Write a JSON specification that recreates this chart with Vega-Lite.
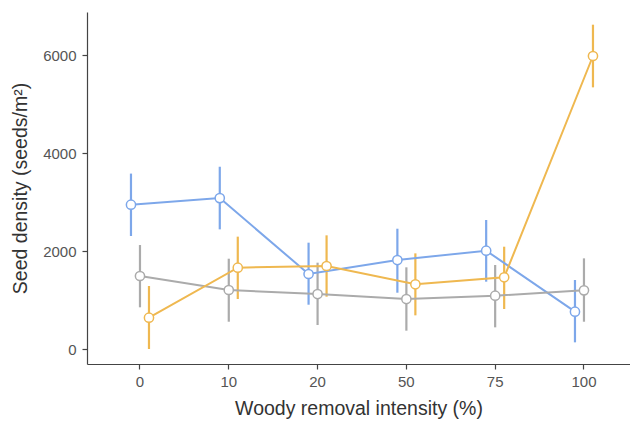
{
  "$schema": "https://vega.github.io/schema/vega-lite/v6.json",
  "width": 543,
  "height": 352,
  "autosize": {"type": "none"},
  "padding": {"left": 87, "top": 12, "right": 0, "bottom": 60},
  "background": "white",
  "config": {
    "view": {"stroke": null},
    "font": "Liberation Sans",
    "axis": {
      "grid": false,
      "domainColor": "#444444",
      "domainWidth": 1.2,
      "tickColor": "#444444",
      "tickWidth": 1.2,
      "tickSize": 5,
      "labelColor": "#555555",
      "labelFontSize": 15,
      "titleColor": "#333333",
      "titleFontSize": 19.5,
      "titleFontWeight": "normal"
    }
  },
  "data": {
    "values": [
      {"removal": "0", "group": "blue", "mean": 2945, "lo": 2306, "hi": 3580},
      {"removal": "10", "group": "blue", "mean": 3080, "lo": 2442, "hi": 3720},
      {"removal": "20", "group": "blue", "mean": 1531, "lo": 904, "hi": 2170},
      {"removal": "50", "group": "blue", "mean": 1816, "lo": 1149, "hi": 2455},
      {"removal": "75", "group": "blue", "mean": 2007, "lo": 1374, "hi": 2633},
      {"removal": "100", "group": "blue", "mean": 762, "lo": 136, "hi": 1408},
      {"removal": "0", "group": "gray", "mean": 1490, "lo": 851, "hi": 2122},
      {"removal": "10", "group": "gray", "mean": 1204, "lo": 557, "hi": 1843},
      {"removal": "20", "group": "gray", "mean": 1122, "lo": 490, "hi": 1762},
      {"removal": "50", "group": "gray", "mean": 1020, "lo": 374, "hi": 1667},
      {"removal": "75", "group": "gray", "mean": 1088, "lo": 442, "hi": 1714},
      {"removal": "100", "group": "gray", "mean": 1197, "lo": 557, "hi": 1850},
      {"removal": "0", "group": "orange", "mean": 639, "lo": 0, "hi": 1286},
      {"removal": "10", "group": "orange", "mean": 1660, "lo": 1020, "hi": 2293},
      {"removal": "20", "group": "orange", "mean": 1694, "lo": 1068, "hi": 2320},
      {"removal": "50", "group": "orange", "mean": 1320, "lo": 687, "hi": 1952},
      {"removal": "75", "group": "orange", "mean": 1463, "lo": 816, "hi": 2088},
      {"removal": "100", "group": "orange", "mean": 5980, "lo": 5340, "hi": 6619}
    ]
  },
  "encoding": {
    "x": {
      "field": "removal",
      "type": "ordinal",
      "sort": ["0", "10", "20", "50", "75", "100"],
      "scale": {"type": "band", "paddingInner": 0, "paddingOuter": 0.0575, "align": 0.84},
      "axis": {"title": "Woody removal intensity (%)", "labelAngle": 0, "labelPadding": 5, "titlePadding": 10}
    },
    "xOffset": {
      "field": "group",
      "type": "nominal",
      "scale": {"type": "point", "domain": ["blue", "gray", "orange"], "range": [35.4, 53.4], "padding": 0}
    },
    "color": {
      "field": "group",
      "type": "nominal",
      "scale": {"domain": ["blue", "gray", "orange"], "range": ["#7DA7EA", "#ABABAB", "#EFB850"]},
      "legend": null
    }
  },
  "layer": [
    {
      "mark": {"type": "rule", "strokeWidth": 2.2},
      "encoding": {
        "y": {
          "field": "lo",
          "type": "quantitative",
          "scale": {"domain": [-306, 6878], "nice": false, "zero": false},
          "axis": {"title": "Seed density (seeds/m²)", "values": [0, 2000, 4000, 6000], "format": "d", "labelPadding": 6, "titlePadding": 12}
        },
        "y2": {"field": "hi"}
      }
    },
    {
      "mark": {"type": "line", "strokeWidth": 2},
      "encoding": {"y": {"field": "mean", "type": "quantitative"}}
    },
    {
      "mark": {"type": "point", "filled": true, "fill": "white", "size": 85, "strokeWidth": 1.5, "opacity": 1},
      "encoding": {
        "y": {"field": "mean", "type": "quantitative"},
        "stroke": {"field": "group", "type": "nominal", "scale": {"domain": ["blue", "gray", "orange"], "range": ["#7DA7EA", "#ABABAB", "#EFB850"]}, "legend": null}
      }
    }
  ]
}
